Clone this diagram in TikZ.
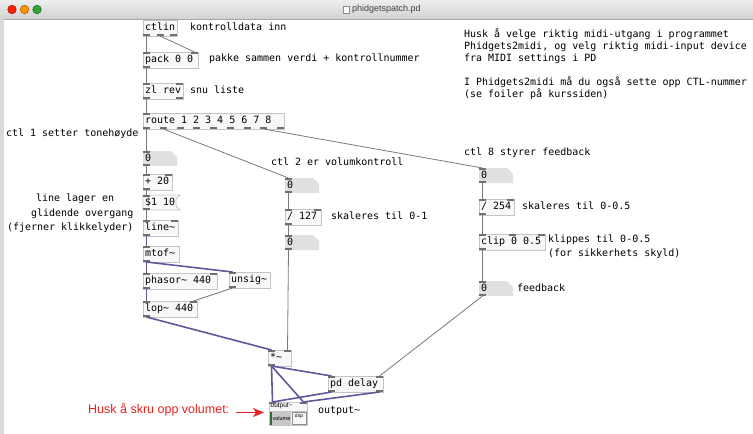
\documentclass[tikz,border=0pt]{standalone}
\usepackage{fontspec}
\usetikzlibrary{arrows.meta}
\newfontfamily\pdmono{DejaVu Sans Mono}
\newfontfamily\uisans{Liberation Sans}
\newcommand\pdtilde{\textasciitilde}

\definecolor{boxgray}{HTML}{C4C4C4}
\definecolor{boxfill}{HTML}{F8F8F8}
\definecolor{portgray}{HTML}{707070}
\definecolor{numfill}{HTML}{E0E0E0}
\definecolor{ctlwire}{HTML}{7A7A7A}
\definecolor{sigwire}{HTML}{5D5A9C}
\definecolor{warnred}{HTML}{E8231E}
\definecolor{titletop}{HTML}{EDEDED}
\definecolor{titlebot}{HTML}{D2D2D2}
\definecolor{dspgreen}{HTML}{2E6B2E}

\tikzset{
  pdtext/.style={font=\pdmono\fontsize{10}{12}\selectfont, text=black,
    inner sep=0pt, outer sep=0pt, text height=7.5pt, text depth=2pt},
  objbox/.style={anchor=north west, draw=boxgray, fill=boxfill,
    line width=0.8pt, inner sep=0pt, outer sep=0pt},
  comment/.style={pdtext, anchor=west},
  ctlcord/.style={draw=ctlwire, line width=0.8pt},
  sigcord/.style={draw=sigwire, line width=1.6pt},
  tinytext/.style={font=\uisans\fontsize{6.5}{7}\selectfont, inner sep=0pt},
}

% inlets (top) and outlets (bottom) of a box: name, x, y, w, h, #in, #out
\newcommand\pdports[7]{%
  \ifnum#6>0
    \ifnum#6>1 \pgfmathsetmacro\pdstep{(#4-7)/(#6-1)}\else\def\pdstep{0}\fi
    \foreach \k in {1,...,#6}{%
      \pgfmathsetmacro\px{#2+(\k-1)*\pdstep}%
      \fill[portgray] (\px,#3) rectangle ++(7,2);
      \coordinate (#1-i\k) at (\px+3.5,#3);
    }%
  \fi
  \ifnum#7>0
    \ifnum#7>1 \pgfmathsetmacro\pdstep{(#4-7)/(#7-1)}\else\def\pdstep{0}\fi
    \foreach \k in {1,...,#7}{%
      \pgfmathsetmacro\px{#2+(\k-1)*\pdstep}%
      \fill[portgray] (\px,#3+#5-2) rectangle ++(7,2);
      \coordinate (#1-o\k) at (\px+3.5,#3+#5);
    }%
  \fi
}

% object box: name, x, y, w, h, #in, #out, text
\newcommand\pdobj[8]{%
  \node[objbox, minimum width=#4pt, minimum height=#5pt] (#1) at (#2,#3) {};
  \node[comment] (#1-text) at (#2+2,#3+#5/2) {#8};
  \pdports{#1}{#2}{#3}{#4}{#5}{#6}{#7}%
}

% number box with cut corner: name, x, y, w, h, text
\newcommand\pdnum[6]{%
  \fill[numfill] (#2,#3) -- (#2+#4-6,#3) -- (#2+#4,#3+6) -- (#2+#4,#3+#5) -- (#2,#3+#5) -- cycle;
  \node[comment] (#1) at (#2+2,#3+#5/2) {#6};
  \pdports{#1}{#2}{#3}{#4}{#5}{1}{1}%
}

% message box with flag edge: name, x, y, w, h, text
\newcommand\pdmsg[6]{%
  \filldraw[fill=boxfill, draw=boxgray, line width=0.8pt] (#2,#3) -- (#2+#4+4,#3) -- (#2+#4,#3+4)
    -- (#2+#4,#3+#5-4) -- (#2+#4+4,#3+#5) -- (#2,#3+#5) -- cycle;
  \node[comment] (#1) at (#2+2,#3+#5/2) {#6};
  \pdports{#1}{#2}{#3}{#4}{#5}{1}{1}%
}

\begin{document}
\begin{tikzpicture}[x=1pt, y=-1pt]
\useasboundingbox (0,0) rectangle (753,434);
\fill[white] (0,0) rectangle (753,434);

% window chrome
\shade[top color=titletop, bottom color=titlebot] (0,0) rectangle (753,19);
\draw[black!35, line width=0.6pt] (0,19) -- (753,19);
\fill[black!15] (0,19) rectangle (4,434);
\filldraw[fill=red!75!orange, draw=red!55!black, line width=0.4pt] (12,9.5) circle[radius=4.3pt];
\filldraw[fill=orange!85!yellow, draw=orange!60!black, line width=0.4pt] (24.5,9.5) circle[radius=4.3pt];
\filldraw[fill=green!55!black!80!white, draw=green!35!black, line width=0.4pt] (37,9.5) circle[radius=4.3pt];
\filldraw[fill=white, draw=black!45, line width=0.4pt] (343,6) rectangle (349,13.5);
\node[font=\uisans\fontsize{9}{10}\selectfont, text=black!75, anchor=west, inner sep=0pt] (title) at (352,9.5) {phidgetspatch.pd};

% control input chain
\pdobj{ctlin}{143}{20}{34}{16}{0}{3}{ctlin}
\pdobj{pack}{143}{52}{55}{16}{2}{1}{pack 0 0}
\pdobj{zlrev}{143}{83}{40}{16}{2}{2}{zl rev}
\pdobj{route}{143}{113}{141}{16}{1}{9}{route 1 2 3 4 5 6 7 8}

% pitch branch
\pdnum{numA}{143}{151}{34}{15}{0}
\pdobj{plus}{143}{174}{29}{16}{2}{1}{+ 20}
\pdmsg{msgA}{143}{195}{33}{15}{\$1 10}
\pdobj{linesig}{143}{220}{35}{16}{2}{1}{line\pdtilde}
\pdobj{mtof}{143}{246}{36}{16}{1}{1}{mtof\pdtilde}
\pdobj{phasor}{143}{273}{74}{16}{2}{1}{phasor\pdtilde{} 440}
\pdobj{unsig}{229}{272}{41}{16}{1}{1}{unsig\pdtilde}
\pdobj{lop}{143}{301}{54}{16}{2}{1}{lop\pdtilde{} 440}

% volume branch
\pdnum{numB}{285}{178}{34}{15}{0}
\pdobj{divB}{285}{209}{36}{16}{2}{1}{/ 127}
\pdnum{numBB}{285}{235}{34}{15}{0}

% feedback branch
\pdnum{numC}{479}{168}{34}{15}{0}
\pdobj{divC}{479}{199}{35}{16}{2}{1}{/ 254}
\pdobj{clip}{479}{234}{66}{16}{3}{1}{clip 0 0.5}
\pdnum{numCC}{479}{281}{34}{15}{0}

% output section
\pdobj{mul}{268}{350}{23}{16}{2}{1}{*\pdtilde}
\pdobj{delay}{328}{376}{55}{16}{2}{2}{pd delay}

\node[objbox, minimum width=38pt, minimum height=23pt] (out) at (269,402) {};
\node[tinytext, anchor=west] (outlabel) at (270.5,406.5) {output\pdtilde};
\draw[boxgray, line width=0.6pt] (269,411) -- (307,411);
\fill[black!22] (270,412) rectangle (291,424.5);
\fill[dspgreen] (270,412) rectangle (272,424.5);
\node[tinytext, font=\uisans\fontsize{5.5}{6}\selectfont] (volbtn) at (281.5,418.5) {volume};
\draw[black!45, line width=0.5pt] (292,412) rectangle (306,424.5);
\node[tinytext, font=\uisans\fontsize{5}{6}\selectfont] (dspbtn) at (299,416.5) {dsp};
\pdports{out}{269}{402}{38}{23}{2}{0}

% comments
\node[comment] (cInn) at (190,28) {kontrolldata inn};
\node[comment] (cPack) at (209,59) {pakke sammen verdi + kontrollnummer};
\node[comment] (cSnu) at (190,91) {snu liste};
\node[comment] (cCtlA) at (6,134) {ctl 1 setter tonehøyde};
\node[comment] (cLineA) at (36,199) {line lager en};
\node[comment] (cLineB) at (31,214) {glidende overgang};
\node[comment] (cLineC) at (7,228) {(fjerner klikkelyder)};
\node[comment] (cCtlB) at (271,163) {ctl 2 er volumkontroll};
\node[comment] (cScaleB) at (331,217) {skaleres til 0-1};
\node[comment] (cCtlC) at (464,153) {ctl 8 styrer feedback};
\node[comment] (cScaleC) at (522,207) {skaleres til 0-0.5};
\node[comment] (cClipA) at (548,240) {klippes til 0-0.5};
\node[comment] (cClipB) at (548,254) {(for sikkerhets skyld)};
\node[comment] (cFb) at (517,289) {feedback};
\node[comment] (cOut) at (318,411) {output\pdtilde};
\node[comment] (noteA) at (464,35) {Husk å velge riktig midi-utgang i programmet};
\node[comment] (noteB) at (464,47) {Phidgets2midi, og velg riktig midi-input device};
\node[comment] (noteC) at (464,59) {fra MIDI settings i PD};
\node[comment] (noteD) at (464,83) {I Phidgets2midi må du også sette opp CTL-nummer};
\node[comment] (noteE) at (464,95) {(se foiler på kurssiden)};

% volume reminder
\node[font=\uisans\fontsize{12.5}{14}\selectfont, text=warnred, anchor=west, inner sep=0pt] (warn) at (88,410) {Husk å skru opp volumet:};
\coordinate (warnTail) at (236,412.5);
\coordinate (warnTip) at (264,412.5);
\draw[warnred, line width=1.6pt, -{Stealth[length=11pt, width=9pt, inset=3pt]}] (warnTail) -- (warnTip);

% control cords
\draw[ctlcord] (ctlin-o1) -- (pack-i1);
\draw[ctlcord] (ctlin-o2) -- (pack-i2);
\draw[ctlcord] (pack-o1) -- (zlrev-i1);
\draw[ctlcord] (zlrev-o1) -- (route-i1);
\draw[ctlcord] (route-o1) -- (numA-i1);
\draw[ctlcord] (route-o2) -- (numB-i1);
\draw[ctlcord] (route-o8) -- (numC-i1);
\draw[ctlcord] (numA-o1) -- (plus-i1);
\draw[ctlcord] (plus-o1) -- (msgA-i1);
\draw[ctlcord] (msgA-o1) -- (linesig-i1);
\draw[ctlcord] (unsig-o1) -- (lop-i2);
\draw[ctlcord] (numB-o1) -- (divB-i1);
\draw[ctlcord] (divB-o1) -- (numBB-i1);
\draw[ctlcord] (numBB-o1) -- (mul-i2);
\draw[ctlcord] (numC-o1) -- (divC-i1);
\draw[ctlcord] (divC-o1) -- (clip-i1);
\draw[ctlcord] (clip-o1) -- (numCC-i1);
\draw[ctlcord] (numCC-o1) -- (delay-i2);

% signal cords
\draw[sigcord] (linesig-o1) -- (mtof-i1);
\draw[sigcord] (mtof-o1) -- (phasor-i1);
\draw[sigcord] (mtof-o1) -- (unsig-i1);
\draw[sigcord] (phasor-o1) -- (lop-i1);
\draw[sigcord] (lop-o1) -- (mul-i1);
\draw[sigcord] (mul-o1) -- (out-i1);
\draw[sigcord] (mul-o1) -- (out-i2);
\draw[sigcord] (mul-o1) -- (delay-i1);
\draw[sigcord] (delay-o1) -- (out-i1);
\draw[sigcord] (delay-o2) -- (out-i2);
\end{tikzpicture}
\end{document}
